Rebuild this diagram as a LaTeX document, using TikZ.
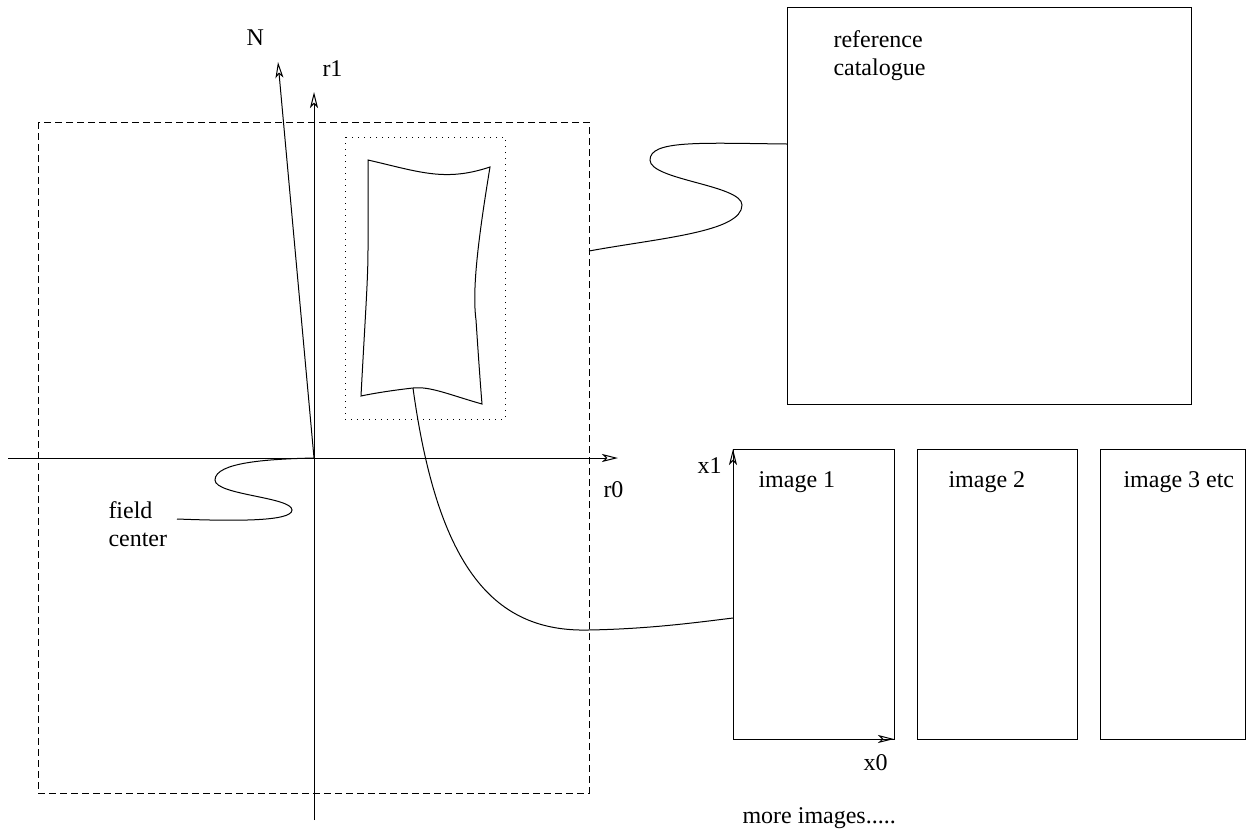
\documentclass[tikz,border=0pt]{standalone}
\usepackage{fontspec}
\setmainfont{Liberation Serif}
\usetikzlibrary{arrows.meta}

\tikzset{
	axis/.style={-{Stealth[open,length=16pt,width=8pt,inset=4pt]},line width=1pt},
	framebox/.style={draw,line width=1pt,inner sep=0pt,outer sep=0pt,anchor=north west},
	lbl/.style={font=\fontsize{24}{28}\selectfont,inner sep=0pt,anchor=base west}
}

\begin{document}
\begin{tikzpicture}[x=1pt,y=-1pt,line width=1pt]
	\useasboundingbox (0,0) rectangle (1253,831);

	% field and sub-region
	\draw[dash pattern=on 7pt off 4pt] (38,122) rectangle (589,793);
	\draw[dash pattern=on 1pt off 5pt] (345,137) rectangle (505,419);

	% sky axes
	\coordinate (origin) at (314,458);
	\coordinate (rleft) at (8,458);
	\coordinate (rright) at (618,458);
	\coordinate (rbot) at (314,820);
	\coordinate (rtop) at (314,92);
	\coordinate (ntip) at (278,62);
	\draw[axis] (rleft) -- (rright);
	\draw[axis] (rbot) -- (rtop);
	\draw[axis] (origin) -- (ntip);
	\node[lbl] (lblN) at (246,45) {N};
	\node[lbl] (lblr1) at (322,76) {r1};
	\node[lbl] (lblr0) at (603,497) {r0};

	% distorted image footprint
	\coordinate (shapebot) at (413,388);
	\draw (368,160) .. controls (420,172) and (445,182) .. (490,167)
		.. controls (478,240) and (472,290) .. (476,320)
		.. controls (478,350) and (480,380) .. (482,404)
		.. controls (450,395) and (430,386) .. (shapebot)
		.. controls (395,390) and (375,393) .. (361,396)
		.. controls (365,320) and (368,280) .. (368,250) -- cycle;

	% field center
	\node[lbl] (lblfield) at (108,518) {field};
	\node[lbl] (lblcenter) at (108,546) {center};
	\coordinate (fcA) at (177,519);
	\draw (fcA) .. controls (230,521) and (292,522) .. (292,510)
		.. controls (292,497) and (215,495) .. (215,480)
		.. controls (215,462) and (270,459) .. (origin);

	% reference catalogue
	\node[framebox,minimum width=404pt,minimum height=397pt] (cat) at (787,7) {};
	\node[lbl] (lblref) at (833,47) {reference};
	\node[lbl] (lblcat) at (833,75) {catalogue};
	\coordinate (refA) at (589,251);
	\coordinate (catin) at (787,144);
	\draw (refA) .. controls (660,238) and (742,232) .. (742,205)
		.. controls (742,185) and (650,180) .. (650,160)
		.. controls (650,140) and (700,143) .. (catin);

	% images
	\node[framebox,minimum width=161pt,minimum height=290pt] (img1) at (733,449) {};
	\node[framebox,minimum width=160pt,minimum height=290pt] (img2) at (917,449) {};
	\node[framebox,minimum width=145pt,minimum height=290pt] (img3) at (1100,449) {};
	\node[lbl] (lblimg1) at (758,487) {image 1};
	\node[lbl] (lblimg2) at (948,487) {image 2};
	\node[lbl] (lblimg3) at (1123,487) {image 3 etc};
	\draw[axis] (img1.south west) -- (img1.north west);
	\draw[axis] (img1.south west) -- (img1.south east);
	\node[lbl] (lblx1) at (697,473) {x1};
	\node[lbl] (lblx0) at (863,770) {x0};
	\node[lbl] (lblmore) at (742,823) {more images.....};

	\coordinate (imgin) at (733,618);
	\draw (shapebot) .. controls (438,570) and (495,632) .. (588,630)
		.. controls (650,629) and (700,622) .. (imgin);
\end{tikzpicture}
\end{document}
